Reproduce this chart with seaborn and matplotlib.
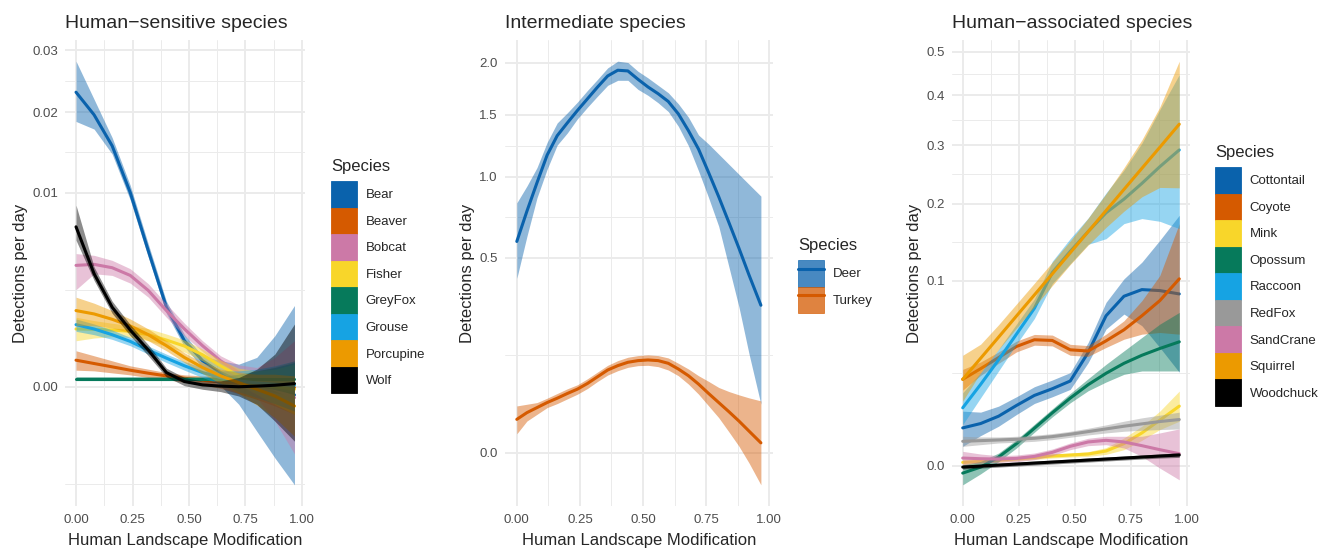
import numpy as np
import matplotlib
matplotlib.use("Agg")
import matplotlib.pyplot as plt
import seaborn as sns
from matplotlib.lines import Line2D
from matplotlib.patches import Patch
from matplotlib.ticker import FixedLocator

# x positions (human landscape modification) where the fitted curves were read
XS = [0.00, 0.08, 0.16, 0.24, 0.32, 0.40, 0.48, 0.56, 0.64, 0.72, 0.80, 0.88, 0.967]
# finer grid for the two intermediate species
XS_MID = [0.00, 0.04, 0.08, 0.12, 0.16, 0.20, 0.24, 0.28, 0.32, 0.36, 0.40, 0.44, 0.48,
          0.52, 0.56, 0.60, 0.64, 0.68, 0.72, 0.76, 0.80, 0.84, 0.88, 0.92, 0.967]

# ---- human-sensitive species: fitted mean, lower and upper band ----
bear_mean = [0.0230, 0.0196, 0.01538, 0.0100, 0.0049, 0.00168, 0.00056, 0.00018, 0.000053, 0.000009, -0.0000002, -0.0000063, -0.0000177]
bear_lo = [0.01866, 0.01760, 0.01435, 0.00925, 0.00444, 0.00143, 0.00042, 0.000098, 0.0000002, -0.000081, -0.000524, -0.00134, -0.00255]
bear_hi = [0.0281, 0.0219, 0.01645, 0.01075, 0.00540, 0.00194, 0.00072, 0.00025, 0.00018, 0.000135, 0.000228, 0.00069, 0.00175]

beaver_mean = [0.000187, 0.000143, 0.000105, 0.0000726, 0.0000486, 0.0000312, 0.0000192, 0.0000112, 0.0000062, 0.0000026, 0.0000009, 0.0000001, -0.0000002]
beaver_lo = [0.0000726, 0.0000668, 0.000051, 0.0000373, 0.0000223, 0.0000136, 0.0000053, 0.0000009, -0.0000006, -0.0000126, -0.000042, -0.0000986, -0.000203]
beaver_hi = [0.000343, 0.000254, 0.000178, 0.000116, 0.0000817, 0.0000535, 0.0000373, 0.0000312, 0.0000312, 0.0000416, 0.0000668, 0.000105, 0.000178]

bobcat_mean = [0.003905, 0.00397, 0.003756, 0.003286, 0.002456, 0.001538, 0.000884, 0.000446, 0.000178, 0.0000535, 0.000009, -0.0000017, -0.0000316]
bobcat_lo = [0.0025, 0.003385, 0.003286, 0.002847, 0.002126, 0.001279, 0.000691, 0.00033, 0.000105, 0.0000071, -0.0000316, -0.000313, -0.001197]
bobcat_hi = [0.0047, 0.004579, 0.004235, 0.003693, 0.00281, 0.00182, 0.001067, 0.000561, 0.000254, 0.000127, 0.000098, 0.000227, 0.000561]

fisher_mean = [0.000884, 0.000874, 0.000853, 0.000814, 0.000718, 0.000578, 0.000438, 0.000271, 0.000116, 0.0000312, 0.0000046, 0.0, -0.0000017]
fisher_lo = [0.000561, 0.000629, 0.000664, 0.000646, 0.000561, 0.000438, 0.000318, 0.000178, 0.0000586, 0.0000016, -0.0000152, -0.0000823, -0.000203]
fisher_hi = [0.001279, 0.001159, 0.001067, 0.001, 0.000894, 0.000737, 0.000578, 0.000376, 0.000187, 0.0000913, 0.0000668, 0.0000817, 0.000135]

greyfox_mean = [0.0000177, 0.0000177, 0.0000177, 0.0000177, 0.0000177, 0.0000177, 0.0000177, 0.0000177, 0.0000177, 0.0000177, 0.0000177, 0.0000177, 0.0000177]
greyfox_lo = [0.0000101, 0.0000101, 0.0000101, 0.0000101, 0.0000101, 0.0000101, 0.0000101, 0.0000101, 0.0000101, 0.0000039, 0.0000001, -0.0000022, -0.0000152]
greyfox_hi = [0.0000275, 0.0000275, 0.0000275, 0.0000275, 0.0000275, 0.0000275, 0.0000275, 0.0000275, 0.0000275, 0.0000416, 0.0000668, 0.000098, 0.000156]

grouse_mean = [0.001022, 0.000884, 0.000718, 0.000545, 0.000356, 0.000217, 0.000116, 0.0000535, 0.0000223, 0.000009, 0.0000039, 0.0000016, 0.0000006]
grouse_lo = [0.000814, 0.000718, 0.000595, 0.000446, 0.000282, 0.000156, 0.0000726, 0.0000223, 0.0000016, -0.0000063, -0.0000316, -0.0000761, -0.000157]
grouse_hi = [0.001218, 0.001044, 0.000853, 0.000646, 0.000438, 0.000282, 0.000169, 0.000098, 0.0000668, 0.0000668, 0.0000817, 0.000116, 0.000178]

porcupine_mean = [0.001538, 0.001405, 0.001206, 0.000979, 0.000718, 0.000446, 0.000227, 0.000098, 0.0000312, 0.0000046, -0.0000017, -0.0000227, -0.0000986]
porcupine_lo = [0.000989, 0.000989, 0.000915, 0.000775, 0.000561, 0.000343, 0.000156, 0.0000462, 0.0000026, -0.0000126, -0.0000887, -0.000255, -0.000648]
porcupine_hi = [0.002126, 0.00185, 0.001538, 0.001218, 0.000884, 0.000561, 0.000306, 0.000156, 0.0000817, 0.0000535, 0.0000416, 0.0000416, 0.0000312]

wolf_mean = [0.00678, 0.003385, 0.001676, 0.000853, 0.000356, 0.0000535, 0.0000071, 0.0000009, 0.0000001, 0.0, 0.0000001, 0.0000006, 0.0000026]
wolf_lo = [0.00569, 0.002996, 0.001431, 0.000691, 0.000254, 0.0000257, 0.0000003, -0.0000017, -0.0000063, -0.0000227, -0.0000823, -0.000313, -0.000786]
wolf_hi = [0.00874, 0.003799, 0.00194, 0.001022, 0.000468, 0.0000913, 0.0000223, 0.000009, 0.000009, 0.0000223, 0.0000817, 0.000282, 0.001044]

# ---- intermediate species (on XS_MID) ----
deer_mean = [0.5868, 0.7665, 0.9581, 1.1633, 1.3204, 1.4287, 1.5383, 1.6457, 1.7567, 1.8646, 1.9216, 1.9147, 1.8317,
             1.7567, 1.6929, 1.6208, 1.5082, 1.3626, 1.2110, 1.0309, 0.8608, 0.6979, 0.5501, 0.4153, 0.2862]
deer_lo = [0.3998, 0.6151, 0.8540, 1.0557, 1.2432, 1.3428, 1.4639, 1.5685, 1.6708, 1.7729, 1.8217, 1.8217, 1.7342,
           1.6770, 1.6084, 1.5292, 1.3998, 1.2379, 1.0433, 0.8540, 0.6737, 0.4555, 0.2797, 0.1287, 0.0311]
deer_hi = [0.8206, 0.9345, 1.0683, 1.2651, 1.4287, 1.5173, 1.6146, 1.7245, 1.8317, 1.9452, 2.0136, 2.0000, 1.9114,
           1.8448, 1.7729, 1.7023, 1.5992, 1.4786, 1.3260, 1.2515, 1.1712, 1.0935, 1.0185, 0.9463, 0.8653]

turkey_mean = [0.01478, 0.02129, 0.02695, 0.03327, 0.03928, 0.04632, 0.05337, 0.06335, 0.07619, 0.09020, 0.09995, 0.1078, 0.1118,
               0.1134, 0.1118, 0.1054, 0.09241, 0.07821, 0.06214, 0.04632, 0.03327, 0.02237, 0.01334, 0.00625, 0.00133]
turkey_lo = [0.00480, 0.01334, 0.01955, 0.02695, 0.03195, 0.03833, 0.04528, 0.05451, 0.06708, 0.07958, 0.08875, 0.09614, 0.09995,
             0.1007, 0.09766, 0.09020, 0.07821, 0.06214, 0.04528, 0.02898, 0.01630, 0.00587, 0.00059, -0.00133, -0.01334]
turkey_hi = [0.02898, 0.03109, 0.03327, 0.03928, 0.04632, 0.05394, 0.06093, 0.07221, 0.08587, 0.1007, 0.1118, 0.1201, 0.1243,
             0.1261, 0.1243, 0.1184, 0.1054, 0.09241, 0.07821, 0.06708, 0.05622, 0.04951, 0.04425, 0.03977, 0.03552]

# ---- human-associated species ----
cottontail_mean = [0.00418, 0.0052, 0.00716, 0.0106, 0.01443, 0.0173, 0.02094, 0.03737, 0.0656, 0.0838, 0.0905, 0.0895, 0.0861]
cottontail_lo = [0.0011, 0.00265, 0.00456, 0.00766, 0.01132, 0.01388, 0.0170, 0.0310, 0.0545, 0.0671, 0.0572, 0.0408, 0.0255]
cottontail_hi = [0.00869, 0.00838, 0.01036, 0.01388, 0.01822, 0.02144, 0.0253, 0.0443, 0.0779, 0.1019, 0.1209, 0.1482, 0.1830]

coyote_mean = [0.0218, 0.0275, 0.0341, 0.0415, 0.0463, 0.0458, 0.0392, 0.0384, 0.0455, 0.0539, 0.0656, 0.0795, 0.1019]
coyote_lo = [0.0167, 0.0238, 0.0306, 0.0378, 0.0424, 0.0419, 0.0356, 0.0349, 0.0408, 0.0467, 0.0505, 0.0518, 0.0505]
coyote_hi = [0.0271, 0.0314, 0.0378, 0.0453, 0.0503, 0.0498, 0.0430, 0.0421, 0.0505, 0.0613, 0.0795, 0.1055, 0.1710]

mink_mean = [0.000033, 0.000055, 0.0000945, 0.000144, 0.000204, 0.000275, 0.000335, 0.000401, 0.000633, 0.001425, 0.003142, 0.006051, 0.010365]
mink_lo = [0.0000013, 0.000016, 0.0000396, 0.0000736, 0.000118, 0.000173, 0.000221, 0.000256, 0.000378, 0.000754, 0.00189, 0.003816, 0.005787]
mink_hi = [0.000106, 0.000118, 0.000173, 0.000238, 0.000314, 0.000401, 0.000472, 0.000577, 0.000954, 0.002254, 0.004555, 0.008692, 0.016267]

opossum_mean = [-0.000158, -0.0000052, 0.000221, 0.00142, 0.0041, 0.00817, 0.01334, 0.01915, 0.02493, 0.0306, 0.0356, 0.0401, 0.0448]
opossum_lo = [-0.00106, -0.000189, 0.0000471, 0.00092, 0.00327, 0.00697, 0.01156, 0.01641, 0.02045, 0.02438, 0.0262, 0.0262, 0.0262]
opossum_hi = [0.000003, 0.000055, 0.000472, 0.00199, 0.00503, 0.00945, 0.01526, 0.0221, 0.0300, 0.0385, 0.0480, 0.0585, 0.0686]

raccoon_mean = [0.00979, 0.01932, 0.0327, 0.0505, 0.0723, 0.1089, 0.1340, 0.1600, 0.1866, 0.2073, 0.2325, 0.2608, 0.2909]
raccoon_lo = [0.00495, 0.01348, 0.0262, 0.0431, 0.0633, 0.0967, 0.1190, 0.1430, 0.1504, 0.1710, 0.1782, 0.1743, 0.1640]
raccoon_hi = [0.01555, 0.0253, 0.0396, 0.0585, 0.0811, 0.1220, 0.1505, 0.1790, 0.2170, 0.2550, 0.3034, 0.3697, 0.4463]

redfox_mean = [0.001743, 0.00184, 0.00194, 0.002042, 0.0022, 0.002476, 0.002891, 0.003404, 0.003958, 0.004555, 0.005111, 0.0057, 0.00623]
redfox_lo = [0.0011, 0.001298, 0.001513, 0.001603, 0.001743, 0.00199, 0.002364, 0.002769, 0.003142, 0.003471, 0.003676, 0.003816, 0.003958]
redfox_hi = [0.002533, 0.002419, 0.002419, 0.002533, 0.002709, 0.003015, 0.003471, 0.004104, 0.004869, 0.005787, 0.006689, 0.007458, 0.008374]

sandcrane_mean = [0.000173, 0.000144, 0.000131, 0.000158, 0.000256, 0.000523, 0.0011, 0.001649, 0.00189, 0.001649, 0.001178, 0.000754, 0.000424]
sandcrane_lo = [0.000003, 0.000021, 0.000033, 0.000047, 0.000106, 0.000294, 0.000754, 0.001178, 0.001298, 0.000919, 0.000256, -0.000016, -0.000577]
sandcrane_hi = [0.000605, 0.000401, 0.000294, 0.000335, 0.000472, 0.000818, 0.001513, 0.0022, 0.002533, 0.002533, 0.002533, 0.003142, 0.003958]

squirrel_mean = [0.0218, 0.0337, 0.0482, 0.0654, 0.0851, 0.1074, 0.1323, 0.1598, 0.1899, 0.2227, 0.2580, 0.2958, 0.3403]
squirrel_lo = [0.0122, 0.0253, 0.0394, 0.0553, 0.0738, 0.0947, 0.1181, 0.1421, 0.1658, 0.1890, 0.2110, 0.2259, 0.2253]
squirrel_hi = [0.0356, 0.0431, 0.0580, 0.0763, 0.0972, 0.1209, 0.1473, 0.1787, 0.2157, 0.2591, 0.3097, 0.3752, 0.4774]

woodchuck_mean = [-0.0000052, -0.0000003, 0.0000013, 0.0000082, 0.0000209, 0.0000396, 0.0000641, 0.0000945, 0.000131, 0.000173, 0.000221, 0.000275, 0.000335]
woodchuck_lo = [-0.000033, -0.000016, -0.0000052, -0.0000003, 0.0000013, 0.0000082, 0.0000209, 0.0000396, 0.0000641, 0.0000945, 0.000131, 0.000173, 0.000204]
woodchuck_hi = [0.0000013, 0.0000082, 0.0000209, 0.0000396, 0.0000641, 0.0000945, 0.000131, 0.000173, 0.000221, 0.000275, 0.000335, 0.000401, 0.000498]

# ---- species lists, colours, ticks ----
sensitive_species = ["Bear", "Beaver", "Bobcat", "Fisher", "GreyFox", "Grouse", "Porcupine", "Wolf"]
intermediate_species = ["Deer", "Turkey"]
associated_species = ["Cottontail", "Coyote", "Mink", "Opossum", "Raccoon", "RedFox", "SandCrane", "Squirrel", "Woodchuck"]

BLUE, VERMILLION, PINK, YELLOW = "#0A62AC", "#D55A00", "#CC79A7", "#F8D62A"
GREEN, SKY, ORANGE, GREY, BLACK = "#067A5B", "#16A3E3", "#EC9A00", "#999999", "#000000"

sensitive_colors = [BLUE, VERMILLION, PINK, YELLOW, GREEN, SKY, ORANGE, BLACK]
intermediate_colors = [BLUE, VERMILLION]
associated_colors = [BLUE, VERMILLION, YELLOW, GREEN, SKY, GREY, PINK, ORANGE, BLACK]

x_ticks = [0.0, 0.25, 0.5, 0.75, 1.0]
x_tick_labels = ["0.00", "0.25", "0.50", "0.75", "1.00"]
sensitive_yticks = [0.0, 0.01, 0.02, 0.03]
sensitive_ylabels = ["0.00", "0.01", "0.02", "0.03"]
intermediate_yticks = [0.0, 0.5, 1.0, 1.5, 2.0]
intermediate_ylabels = ["0.0", "0.5", "1.0", "1.5", "2.0"]
associated_yticks = [0.0, 0.1, 0.2, 0.3, 0.4, 0.5]
associated_ylabels = ["0.0", "0.1", "0.2", "0.3", "0.4", "0.5"]

sensitive_data = {
    "Bear": (bear_mean, bear_lo, bear_hi),
    "Beaver": (beaver_mean, beaver_lo, beaver_hi),
    "Bobcat": (bobcat_mean, bobcat_lo, bobcat_hi),
    "Fisher": (fisher_mean, fisher_lo, fisher_hi),
    "GreyFox": (greyfox_mean, greyfox_lo, greyfox_hi),
    "Grouse": (grouse_mean, grouse_lo, grouse_hi),
    "Porcupine": (porcupine_mean, porcupine_lo, porcupine_hi),
    "Wolf": (wolf_mean, wolf_lo, wolf_hi),
}
intermediate_data = {
    "Deer": (deer_mean, deer_lo, deer_hi),
    "Turkey": (turkey_mean, turkey_lo, turkey_hi),
}
associated_data = {
    "Cottontail": (cottontail_mean, cottontail_lo, cottontail_hi),
    "Coyote": (coyote_mean, coyote_lo, coyote_hi),
    "Mink": (mink_mean, mink_lo, mink_hi),
    "Opossum": (opossum_mean, opossum_lo, opossum_hi),
    "Raccoon": (raccoon_mean, raccoon_lo, raccoon_hi),
    "RedFox": (redfox_mean, redfox_lo, redfox_hi),
    "SandCrane": (sandcrane_mean, sandcrane_lo, sandcrane_hi),
    "Squirrel": (squirrel_mean, squirrel_lo, squirrel_hi),
    "Woodchuck": (woodchuck_mean, woodchuck_lo, woodchuck_hi),
}

sns.set_theme(style="white")
plt.rcParams["font.family"] = ["Liberation Sans", "DejaVu Sans"]

TICK_GREY = "#4D4D4D"
GRID = "#EBEBEB"
W, H = 1331, 549


def signed_sqrt(v):
    v = np.asarray(v, dtype=float)
    return np.sign(v) * np.sqrt(np.abs(v))


def signed_square(v):
    v = np.asarray(v, dtype=float)
    return np.sign(v) * v * v


def minor_breaks(ticks, lo, hi):
    # ggplot-style minor breaks: midpoints in transformed space
    t = list(signed_sqrt(ticks))
    step = t[1] - t[0]
    t = [t[0] - step] + t + [t[-1] + (t[-1] - t[-2])]
    mids = [(a + b) / 2 for a, b in zip(t[:-1], t[1:])]
    return [float(m) for m in signed_square(mids) if lo <= m * abs(m) <= hi]


def draw_panel(ax, xs, species, colors, data, title, yticks, ylabels):
    ax.set_yscale("function", functions=(signed_sqrt, signed_square))
    for i, (name, color) in enumerate(zip(species, colors)):
        mean, lo, hi = data[name]
        ax.fill_between(xs, lo, hi, color=color, alpha=0.45, linewidth=0, zorder=2 + 2 * i)
        sns.lineplot(x=xs, y=mean, color=color, linewidth=2.2, ax=ax, zorder=3 + 2 * i)

    # ggplot-like 5% expansion, in sqrt space for y
    all_lo = min(min(data[n][1]) for n in species)
    all_hi = max(max(data[n][2]) for n in species)
    s0, s1 = signed_sqrt([all_lo, all_hi])
    pad = 0.05 * (s1 - s0)
    y0, y1 = signed_square([s0 - pad, s1 + pad])
    ax.set_ylim(y0, y1)
    xpad = 0.05 * (xs[-1] - xs[0])
    ax.set_xlim(xs[0] - xpad, xs[-1] + xpad)

    ax.set_xticks(x_ticks)
    ax.set_xticklabels(x_tick_labels)
    ax.set_yticks(yticks)
    ax.set_yticklabels(ylabels)
    ax.xaxis.set_minor_locator(FixedLocator([0.125, 0.375, 0.625, 0.875]))
    ax.yaxis.set_minor_locator(FixedLocator(minor_breaks(yticks, y0, y1)))
    ax.set_axisbelow(True)
    ax.grid(which="major", color=GRID, linewidth=1.4)
    ax.grid(which="minor", color=GRID, linewidth=0.7)
    ax.tick_params(which="both", length=0)
    ax.tick_params(axis="x", pad=5.5, labelsize=9.5, labelcolor=TICK_GREY)
    ax.tick_params(axis="y", pad=5, labelsize=9.5, labelcolor=TICK_GREY)
    for spine in ax.spines.values():
        spine.set_visible(False)

    ax.set_title(title, loc="left", fontsize=14, pad=9)
    ax.set_xlabel("Human Landscape Modification", fontsize=12, labelpad=5)
    ax.set_ylabel("Detections per day", fontsize=12, labelpad=3)


def add_legend(fig, ax, species, colors, left_px, top_px, with_line=False):
    if with_line:
        handles = [(Patch(facecolor=c, edgecolor=c, linewidth=0.6, alpha=0.75),
                    Line2D([], [], color=c, linewidth=2.2)) for c in colors]
    else:
        handles = [Patch(facecolor=c, edgecolor=c, linewidth=0.6) for c in colors]
    leg = ax.legend(handles, species, title="Species", loc="upper left",
                    bbox_to_anchor=(left_px / W, 1 - top_px / H), bbox_transform=fig.transFigure,
                    frameon=False, borderpad=0, borderaxespad=0, fontsize=9.5, title_fontsize=12,
                    handlelength=1.97, handleheight=2.72, labelspacing=0, handletextpad=0.65)
    leg._legend_box.align = "left"
    leg._legend_box.sep = 5
    return leg


fig = plt.figure(figsize=(W / 100, H / 100), dpi=100)
bottom = (H - 506) / H
height = 466 / H
ax1 = fig.add_axes([65.1 / W, bottom, 240.3 / W, height])
ax2 = fig.add_axes([504.6 / W, bottom, 268.5 / W, height])
ax3 = fig.add_axes([951.9 / W, bottom, 238.2 / W, height])

draw_panel(ax1, XS, sensitive_species, sensitive_colors, sensitive_data,
           "Human\u2212sensitive species", sensitive_yticks, sensitive_ylabels)
draw_panel(ax2, XS_MID, intermediate_species, intermediate_colors, intermediate_data,
           "Intermediate species", intermediate_yticks, intermediate_ylabels)
draw_panel(ax3, XS, associated_species, associated_colors, associated_data,
           "Human\u2212associated species", associated_yticks, associated_ylabels)

add_legend(fig, ax1, sensitive_species, sensitive_colors, 331, 159)
add_legend(fig, ax2, intermediate_species, intermediate_colors, 798, 238, with_line=True)
add_legend(fig, ax3, associated_species, associated_colors, 1215, 145)

fig.savefig("out.png", dpi=100)
